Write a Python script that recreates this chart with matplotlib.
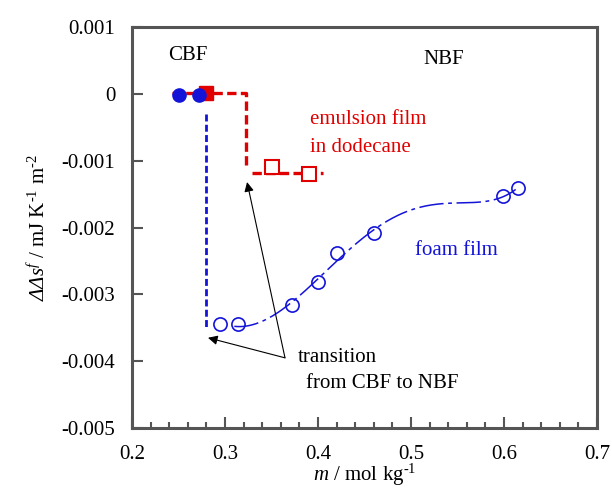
import numpy as np
import matplotlib
matplotlib.use('Agg')
import matplotlib.pyplot as plt
from matplotlib.ticker import MultipleLocator

## Fonts
plt.rcParams['font.family'] = ['Liberation Serif', 'DejaVu Serif']
plt.rcParams['mathtext.fontset'] = 'custom'
plt.rcParams['mathtext.rm'] = 'Liberation Serif'
plt.rcParams['mathtext.it'] = 'Liberation Serif:italic'
# sf slot used for the italic greek symbol in the y label
plt.rcParams['mathtext.sf'] = 'Liberation Serif:italic'
plt.rcParams['axes.unicode_minus'] = False

## Data
# common black film (filled markers)
cbf_foam_m = [0.2505, 0.272]
cbf_foam_ds = [-0.00002, -0.00002]
cbf_emul_m = [0.28]
cbf_emul_ds = [0.00002]
# newton black film, emulsion film in dodecane
nbf_emul_m = [0.35, 0.39]
nbf_emul_ds = [-0.00110, -0.00120]
# newton black film, foam film
nbf_foam_m = [0.2946, 0.314, 0.372, 0.400, 0.4204, 0.460, 0.599, 0.615]
nbf_foam_ds = [-0.00344, -0.00344, -0.00316, -0.00282, -0.00238, -0.00208,
               -0.00153, -0.00141]
# step guides for the transitions
emul_step_m = [0.243, 0.3225, 0.3225]
emul_step_ds = [0.00002, 0.00002, -0.00112]
emul_nbf_line_m = [0.329, 0.405]
emul_nbf_line_ds = [-0.00118, -0.00118]
foam_step_m = [0.28, 0.28]
foam_step_ds = [-0.0003, -0.0035]

yticks = [-0.005, -0.004, -0.003, -0.002, -0.001, 0, 0.001]
ylabels = ['-0.005', '-0.004', '-0.003', '-0.002', '-0.001', '0', '0.001']
xticks = [0.2, 0.3, 0.4, 0.5, 0.6, 0.7]

red = '#e00000'
blue = '#1414d8'

fig = plt.figure(figsize=(6.12, 4.91), dpi=100)
ax = fig.add_axes([0.2157, 0.1283, 0.7598, 0.8167])

# emulsion film
ax.plot(emul_step_m, emul_step_ds, color=red, lw=2.4, dashes=(2.8, 1.3))
ax.plot(emul_nbf_line_m, emul_nbf_line_ds, color=red, lw=2.4, dashes=(2.8, 1.3))
ax.plot(cbf_emul_m, cbf_emul_ds, 's', color=red, ms=9.5)
ax.plot(nbf_emul_m, nbf_emul_ds, 's', mfc='white', mec=red, mew=1.5, ms=9.5)

# foam film
ax.plot(foam_step_m, foam_step_ds, color=blue, lw=2.0, dashes=(2.5, 1.2))
ax.plot(cbf_foam_m, cbf_foam_ds, 'o', color=blue, ms=9.5)
fit = np.poly1d(np.polyfit(nbf_foam_m, nbf_foam_ds, 5))
mp = np.linspace(0.31, 0.615, 200)
ax.plot(mp, fit(mp), color=blue, lw=1.1, dashes=(16, 3, 2.5, 3))
ax.plot(nbf_foam_m, nbf_foam_ds, 'o', mfc='none', mec=blue, mew=1.2, ms=9.5)

# labels
fs = 15
ax.text(0.2387, 0.00058, 'CBF', fontsize=fs, va='center')
ax.text(0.513, 0.00051, 'NBF', fontsize=fs, va='center')
ax.text(0.391, -0.00039, 'emulsion film', fontsize=fs, va='center', color=red)
ax.text(0.391, -0.00081, 'in dodecane', fontsize=fs, va='center', color=red)
ax.text(0.504, -0.00234, 'foam film', fontsize=fs, va='center', color=blue)
ax.text(0.3785, -0.00394, 'transition', fontsize=fs, va='center')
ax.text(0.387, -0.00433, 'from CBF to NBF', fontsize=fs, va='center')

arrow = dict(arrowstyle='-|>', color='black', lw=0.8,
             mutation_scale=14, shrinkA=0, shrinkB=0)
ax.annotate('', xy=(0.2817, -0.00365), xytext=(0.3645, -0.00395),
            arrowprops=arrow)
ax.annotate('', xy=(0.3237, -0.00132), xytext=(0.3645, -0.00395),
            arrowprops=arrow)

# axes
ax.set_xlim(0.2, 0.7)
ax.set_ylim(-0.005, 0.001)
ax.set_xticks(xticks)
ax.set_xticklabels(['0.2', '0.3', '0.4', '0.5', '0.6', '0.7'])
ax.set_yticks(yticks)
ax.set_yticklabels(ylabels)
ax.xaxis.set_minor_locator(MultipleLocator(0.02))
ax.tick_params(which='both', direction='in', labelsize=fs, color='#555555',
               width=1.5)
ax.tick_params(which='major', length=8)
ax.tick_params(which='minor', length=4)
ax.tick_params(axis='x', which='major', pad=12)
ax.tick_params(axis='y', which='major', pad=12)
for s in ax.spines.values():
    s.set_color('#555555')
    s.set_linewidth(2.2)

ax.set_xlabel(r'$\mathit{m}$ / mol kg$^{\mathrm{‐}1}$', fontsize=fs,
              labelpad=-1)
ax.set_ylabel(r'$\mathsf{ΔΔs}^{f}$ / mJ K$^{\mathrm{‐}1}$ m$^{\mathrm{‐}2}$',
              fontsize=fs, labelpad=8)

fig.savefig('out.png', dpi=100)
